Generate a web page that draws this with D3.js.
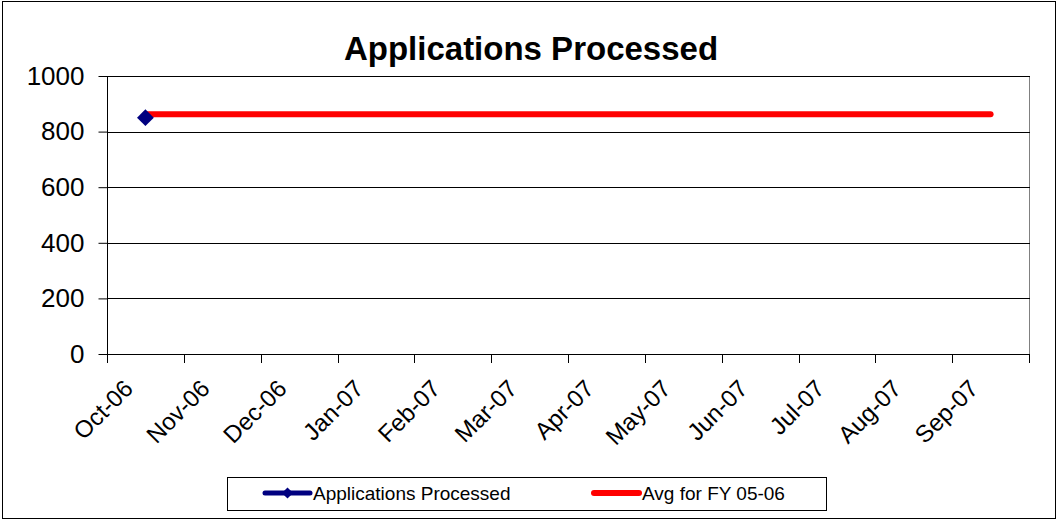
<!DOCTYPE html>
<html lang="en">
<head>
<meta charset="UTF-8"/>
<title>Applications Processed</title>
<script src="https://d3js.org/d3.v7.min.js"></script>
<style>
  body { margin: 0; background: #fff; }
  text { font-family: "Liberation Sans", Arial, sans-serif; fill: #000; }
</style>
</head>
<body>
<script>
    // chart data
    var months = ["Oct-06", "Nov-06", "Dec-06", "Jan-07", "Feb-07", "Mar-07",
                  "Apr-07", "May-07", "Jun-07", "Jul-07", "Aug-07", "Sep-07"];
    var applications = [850, null, null, null, null, null, null, null, null, null, null, null];
    var avgFY0506 = [862, 862, 862, 862, 862, 862, 862, 862, 862, 862, 862, 862];
    var yTicks = [0, 200, 400, 600, 800, 1000];

    var w = 1058, h = 520;
    var plotLeft = 107, plotRight = 1029, plotTop = 76, plotBottom = 354;

    var svg = d3.select("body").append("svg")
        .attr("width", w)
        .attr("height", h);

    // outer chart border
    svg.append("rect")
        .attr("x", 2.5).attr("y", 1.5)
        .attr("width", 1053).attr("height", 517)
        .attr("fill", "#fff")
        .attr("stroke", "#000")
        .attr("stroke-width", 1);

    var xScale = d3.scaleBand()
        .domain(months)
        .range([plotLeft, plotRight])
        .padding(0);

    var yScale = d3.scaleLinear()
        .domain([0, 1000])
        .range([plotBottom, plotTop]);

    function cx(d) { return xScale(d) + xScale.bandwidth() / 2; }

    // plot area right border (gray)
    svg.append("line")
        .attr("x1", plotRight + 0.5).attr("x2", plotRight + 0.5)
        .attr("y1", plotTop).attr("y2", plotBottom)
        .attr("stroke", "#808080");

    // horizontal gridlines
    svg.selectAll("line.grid")
        .data(yTicks.filter(function(d) { return d > 0; }))
        .enter().append("line")
        .attr("class", "grid")
        .attr("x1", plotLeft).attr("x2", plotRight + 1)
        .attr("y1", function(d) { return Math.round(yScale(d)) + 0.5; })
        .attr("y2", function(d) { return Math.round(yScale(d)) + 0.5; })
        .attr("stroke", "#000");

    // y axis
    var yAxis = d3.axisLeft(yScale)
        .tickValues(yTicks)
        .tickFormat(d3.format("d"))
        .tickSize(9)
        .tickPadding(14);
    var gy = svg.append("g")
        .attr("transform", "translate(" + (plotLeft + 0.5) + ",0)")
        .call(yAxis);
    gy.select(".domain").attr("stroke", "#000").attr("d", "M0," + plotTop + "V" + (plotBottom + 0.5));
    gy.selectAll(".tick line").attr("stroke", "#000");
    gy.selectAll(".tick text")
        .attr("font-size", "26px")
        .attr("font-family", "Liberation Sans, Arial, sans-serif")
        .attr("fill", "#000");

    // x axis: ticks at category boundaries
    var xAxisG = svg.append("g");
    xAxisG.append("line")
        .attr("x1", plotLeft).attr("x2", plotRight + 1)
        .attr("y1", plotBottom + 0.5).attr("y2", plotBottom + 0.5)
        .attr("stroke", "#000");
    var edges = months.map(function(d) { return xScale(d); }).concat([plotRight]);
    xAxisG.selectAll("line.xtick")
        .data(edges)
        .enter().append("line")
        .attr("class", "xtick")
        .attr("x1", function(d) { return Math.round(d) + 0.5; })
        .attr("x2", function(d) { return Math.round(d) + 0.5; })
        .attr("y1", plotBottom).attr("y2", plotBottom + 9)
        .attr("stroke", "#000");
    xAxisG.selectAll("text.xlabel")
        .data(months)
        .enter().append("text")
        .attr("class", "xlabel")
        .attr("transform", function(d) {
            return "translate(" + (cx(d) - 11) + "," + (plotBottom + 36) + ") rotate(-45)";
        })
        .attr("text-anchor", "end")
        .attr("font-size", "24px")
        .text(function(d) { return d; });

    // average line (red)
    var avgLine = d3.line()
        .x(function(d, i) { return cx(months[i]); })
        .y(function(d) { return yScale(d); });
    svg.append("path")
        .datum(avgFY0506)
        .attr("d", avgLine)
        .attr("fill", "none")
        .attr("stroke", "#ff0000")
        .attr("stroke-width", 6)
        .attr("stroke-linecap", "round");

    // applications processed (navy, diamonds)
    var appLine = d3.line()
        .defined(function(d) { return d !== null; })
        .x(function(d, i) { return cx(months[i]); })
        .y(function(d) { return yScale(d); });
    svg.append("path")
        .datum(applications)
        .attr("d", appLine)
        .attr("fill", "none")
        .attr("stroke", "#000080")
        .attr("stroke-width", 5);
    var diamond = d3.symbol().type(d3.symbolDiamond2).size(180);
    svg.selectAll("path.marker")
        .data(applications.map(function(v, i) { return { m: months[i], v: v }; })
              .filter(function(d) { return d.v !== null; }))
        .enter().append("path")
        .attr("class", "marker")
        .attr("d", diamond)
        .attr("transform", function(d) { return "translate(" + cx(d.m) + "," + yScale(d.v) + ")"; })
        .attr("fill", "#000080");

    // title
    svg.append("text")
        .attr("x", 531).attr("y", 60)
        .attr("text-anchor", "middle")
        .attr("font-size", "33px")
        .attr("font-weight", "bold")
        .text("Applications Processed");

    // legend
    var lg = svg.append("g");
    lg.append("rect")
        .attr("x", 227.5).attr("y", 477.5)
        .attr("width", 599).attr("height", 33)
        .attr("fill", "#fff")
        .attr("stroke", "#000");
    var legendItems = [
        { name: "Applications Processed", color: "#000080", marker: true, x: 265 },
        { name: "Avg for FY 05-06", color: "#ff0000", marker: false, x: 594 }
    ];
    legendItems.forEach(function(it) {
        lg.append("line")
            .attr("x1", it.x).attr("x2", it.x + 45)
            .attr("y1", 493).attr("y2", 493)
            .attr("stroke", it.color)
            .attr("stroke-width", it.marker ? 5 : 6)
            .attr("stroke-linecap", "round");
        if (it.marker) {
            lg.append("path")
                .attr("d", d3.symbol().type(d3.symbolDiamond2).size(80))
                .attr("transform", "translate(" + (it.x + 22.5) + ",493)")
                .attr("fill", it.color);
        }
        lg.append("text")
            .attr("x", it.x + 48).attr("y", 500)
            .attr("font-size", "19px")
            .text(it.name);
    });
</script>
</body>
</html>
